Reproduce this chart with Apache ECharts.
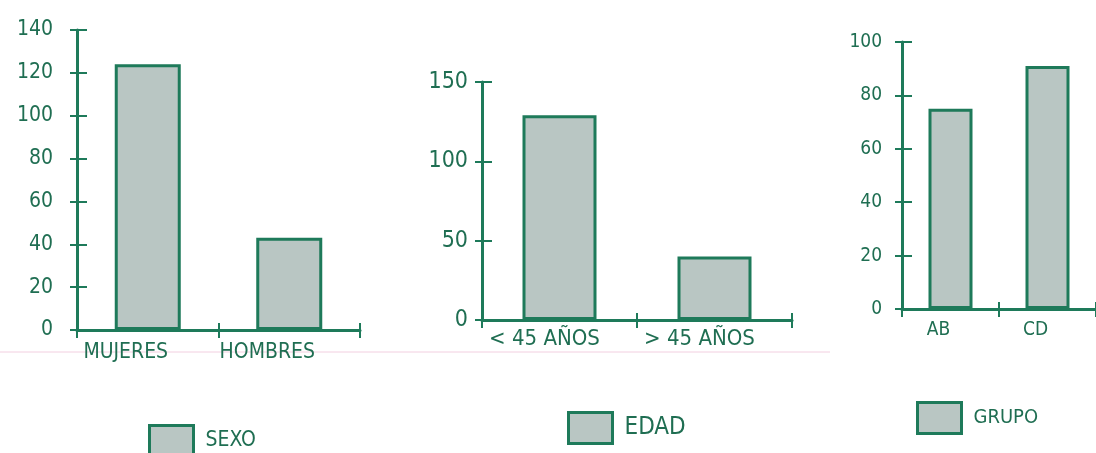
<!DOCTYPE html>
<html>
<head>
<meta charset="utf-8">
<script src="https://cdn.jsdelivr.net/npm/echarts@6/dist/echarts.min.js"></script>
<style>
  html, body { margin: 0; padding: 0; background: #fff; }
  #chart { width: 1096px; height: 453px; }
</style>
</head>
<body>
<div id="chart"></div>
<script>
// Three small bar panels: sex, age group and group
const sexoCats = ['MUJERES', 'HOMBRES'];
const sexoValues = [124, 43];
const sexoTicks = { min: 0, max: 140, interval: 20 };

const edadCats = ['< 45 AÑOS', '> 45 AÑOS'];
const edadValues = [129, 40];
const edadTicks = { min: 0, max: 150, interval: 50 };

const grupoCats = ['AB', 'CD'];
const grupoValues = [75, 91];
const grupoTicks = { min: 0, max: 100, interval: 20 };

const GREEN = '#1e7a5a';
const TEXT = '#1f6e52';
const FILL = '#b9c6c3';
const FONT = '"Liberation Sans Narrow", "DejaVu Sans Condensed", "Arial Narrow", sans-serif';

const panels = [
  { name: 'SEXO', cats: sexoCats, values: sexoValues, ticks: sexoTicks,
    grid: { left: 77, top: 30, width: 283, height: 300 },
    barWidth: 66, yFont: 21, yMargin: 24, xFont: 21, xMargin: 12, xShift: 44,
    legend: { left: 148, top: 424, font: 21 } },
  { name: 'EDAD', cats: edadCats, values: edadValues, ticks: edadTicks,
    grid: { left: 482, top: 82, width: 310, height: 238 },
    barWidth: 74, yFont: 23, yMargin: 14, xFont: 22, xMargin: 8, xShift: 30,
    legend: { left: 567, top: 411, font: 24 } },
  { name: 'GRUPO', cats: grupoCats, values: grupoValues, ticks: grupoTicks,
    grid: { left: 902, top: 42, width: 202, height: 267 },
    barWidth: 44, yFont: 19, yMargin: 20, xFont: 19, xMargin: 12, xShift: 24,
    legend: { left: 916, top: 401, font: 20 } }
];

const option = {
  animation: false,
  backgroundColor: '#ffffff',
  textStyle: { fontFamily: FONT },
  grid: [], xAxis: [], yAxis: [], series: [], legend: [],
  graphic: [{
    // faint pink rule running under the first two panels
    type: 'line', silent: true, z: -1,
    shape: { x1: 0, y1: 352, x2: 830, y2: 352 },
    style: { stroke: '#f2cfe0', lineWidth: 1 }
  }]
};

panels.forEach((p, i) => {
  option.grid.push(Object.assign({ containLabel: false }, p.grid));

  const xi = option.xAxis.length;
  // main category axis: line, labels, tick halves below the line
  option.xAxis.push({
    type: 'category', gridIndex: i, position: 'bottom', data: p.cats, boundaryGap: true,
    axisLine: { lineStyle: { color: GREEN, width: 3 } },
    axisTick: { show: true, inside: false, length: 8, lineStyle: { color: GREEN, width: 2 } },
    axisLabel: { color: TEXT, fontSize: p.xFont, margin: p.xMargin, fontFamily: FONT,
                 interval: 0, hideOverlap: false, padding: [0, p.xShift, 0, 0] },
    splitLine: { show: false }
  });
  // companion axis that draws the tick halves above the line
  option.xAxis.push({
    type: 'category', gridIndex: i, position: 'bottom', data: p.cats, boundaryGap: true,
    axisLine: { show: false },
    axisTick: { show: true, inside: true, length: 7, lineStyle: { color: GREEN, width: 2 } },
    axisLabel: { show: false }, splitLine: { show: false }
  });

  const yi = option.yAxis.length;
  option.yAxis.push({
    type: 'value', gridIndex: i, position: 'left',
    min: p.ticks.min, max: p.ticks.max, interval: p.ticks.interval,
    axisLine: { show: true, lineStyle: { color: GREEN, width: 3 } },
    axisTick: { show: true, inside: false, length: 7, lineStyle: { color: GREEN, width: 2 } },
    axisLabel: { color: TEXT, fontSize: p.yFont, margin: p.yMargin, fontFamily: FONT },
    splitLine: { show: false }
  });
  option.yAxis.push({
    type: 'value', gridIndex: i, position: 'left',
    min: p.ticks.min, max: p.ticks.max, interval: p.ticks.interval,
    axisLine: { show: false },
    axisTick: { show: true, inside: true, length: 10, lineStyle: { color: GREEN, width: 2 } },
    axisLabel: { show: false }, splitLine: { show: false }
  });

  option.series.push({
    type: 'bar', name: p.name, xAxisIndex: xi, yAxisIndex: yi,
    data: p.values, barWidth: p.barWidth,
    itemStyle: { color: FILL, borderColor: GREEN, borderWidth: 3 }
  });

  option.legend.push({
    data: [p.name], left: p.legend.left, top: p.legend.top, padding: 0,
    icon: 'rect', itemWidth: 44, itemHeight: 31,
    itemStyle: { color: FILL, borderColor: GREEN, borderWidth: 3 },
    textStyle: { color: TEXT, fontSize: p.legend.font, fontFamily: FONT, padding: [0, 0, 0, 7] },
    selectedMode: false
  });
});

const chart = echarts.init(document.getElementById('chart'), null, { renderer: 'canvas' });
chart.setOption(option);
</script>
</body>
</html>
